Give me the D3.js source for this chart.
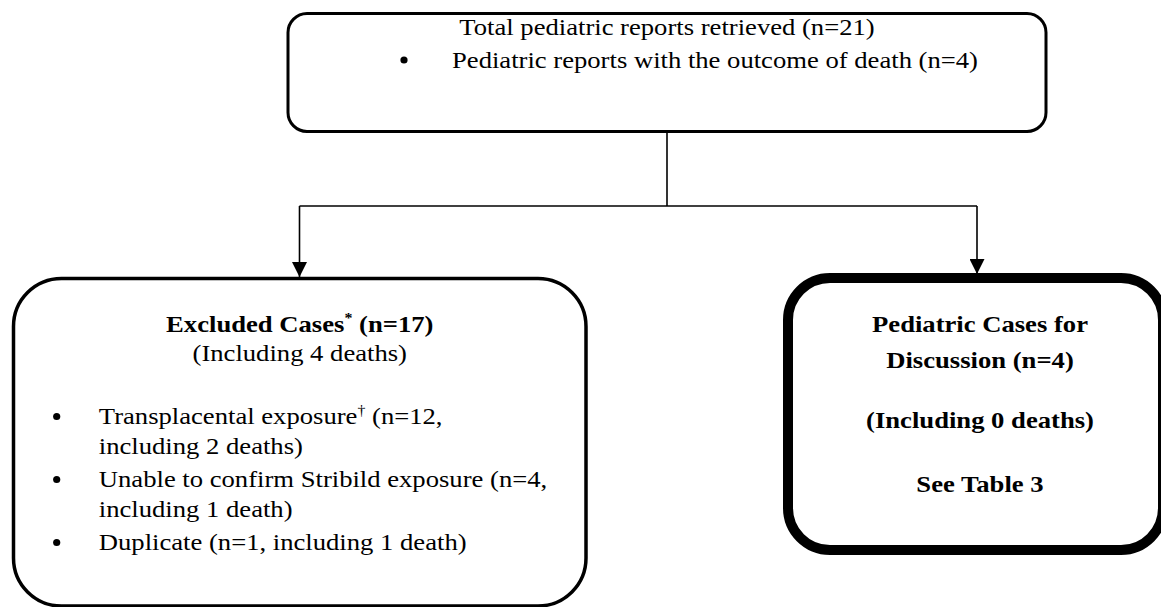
<!DOCTYPE html>
<html>
<head>
<meta charset="utf-8">
<script src="https://cdn.jsdelivr.net/npm/d3@7"></script>
<style>
  body { margin: 0; background: #fff; }
  text { font-family: "Liberation Serif", "Times New Roman", serif; fill: #000; }
</style>
</head>
<body>
<svg id="flow"></svg>
<script>
// flow chart values
let stageNames = ["Total pediatric reports retrieved", "Excluded Cases", "Pediatric Cases for Discussion"];
let stageCounts = [21, 17, 4];
let stageDeaths = [4, 4, 0];
let reasonNames = ["Transplacental exposure", "Unable to confirm Stribild exposure", "Duplicate"];
let reasonCounts = [12, 4, 1];
let reasonDeaths = [2, 1, 1];
let reasonMarks = ["\u2020", "", ""];
let reasonBreak = [true, true, false];

let svgWidth = 1161, svgHeight = 607;
let fs = 24, sx = 1.11;   // text looks a bit stretched sideways in the original

let svg = d3.select("#flow")
    .attr("width", svgWidth)
    .attr("height", svgHeight);

svg.append("defs").append("marker")
    .attr("id", "arrow")
    .attr("viewBox", "0 0 10 10")
    .attr("refX", 10)
    .attr("refY", 5)
    .attr("markerWidth", 15)
    .attr("markerHeight", 15)
    .attr("markerUnits", "userSpaceOnUse")
    .attr("orient", "auto")
  .append("path")
    .attr("d", "M0,0 L10,5 L0,10 Z")
    .attr("fill", "#000");

// boxes
let boxes = [
  {x0: 288, y0: 13.5, x1: 1046, y1: 131.5, r: 19, w: 3},
  {x0: 13.5, y0: 278.5, x1: 586, y1: 606, r: 48, w: 3.5},
  {x0: 788, y0: 278, x1: 1163, y1: 550, r: 42, w: 10}
];

svg.selectAll(".box")
    .data(boxes)
    .enter()
    .append("rect")
    .attr("class", "box")
    .attr("x", d => d.x0)
    .attr("y", d => d.y0)
    .attr("width", d => d.x1 - d.x0)
    .attr("height", d => d.y1 - d.y0)
    .attr("rx", d => d.r)
    .attr("ry", d => d.r)
    .attr("fill", "none")
    .attr("stroke", "#000")
    .attr("stroke-width", d => d.w);

// connectors
let branchX = d3.scaleOrdinal().domain(stageNames.slice(1)).range([299.5, 977]);
let stemX = 667, splitY = 206;

svg.append("line")
    .attr("x1", stemX).attr("x2", stemX)
    .attr("y1", boxes[0].y1).attr("y2", splitY)
    .attr("stroke", "#000").attr("stroke-width", 1.6);

svg.append("line")
    .attr("x1", branchX(stageNames[1])).attr("x2", branchX(stageNames[2]))
    .attr("y1", splitY).attr("y2", splitY)
    .attr("stroke", "#000").attr("stroke-width", 1.6);

svg.selectAll(".branch")
    .data(stageNames.slice(1))
    .enter()
    .append("line")
    .attr("class", "branch")
    .attr("x1", d => branchX(d)).attr("x2", d => branchX(d))
    .attr("y1", splitY)
    .attr("y2", (d, i) => i == 0 ? 277 : 274)
    .attr("stroke", "#000").attr("stroke-width", 1.6)
    .attr("marker-end", "url(#arrow)");

function bullet(x, y) {
  svg.append("circle").attr("cx", x).attr("cy", y).attr("r", 3.6).attr("fill", "#000");
}

// text placed at x,y and stretched sideways
function label(x, y, anchor, bold) {
  return svg.append("text")
      .attr("transform", "translate(" + x + "," + y + ") scale(" + sx + ",1)")
      .attr("font-size", fs)
      .attr("font-weight", bold ? "bold" : null)
      .attr("text-anchor", anchor);
}

// top box
let tc = (boxes[0].x0 + boxes[0].x1) / 2;
label(tc, 35, "middle").text(stageNames[0] + " (n=" + stageCounts[0] + ")");
bullet(404, 60);
label(452, 67.5, "start").text("Pediatric reports with the outcome of death (n=" + stageDeaths[0] + ")");

// excluded box
let lc = (boxes[1].x0 + boxes[1].x1) / 2;
let head = label(lc, 332, "middle", true);
head.append("tspan").text(stageNames[1]);
head.append("tspan").attr("font-size", fs * 0.6).attr("dy", -9).text("*");
head.append("tspan").attr("dy", 9).text(" (n=" + stageCounts[1] + ")");

label(lc, 361, "middle").text("(Including " + stageDeaths[1] + " deaths)");

let lineY = 424;
reasonNames.forEach(function(name, i) {
  let tail = "including " + reasonDeaths[i] + " death" + (reasonDeaths[i] > 1 ? "s" : "") + ")";
  bullet(56.7, lineY - 7.5);
  let t = label(98.8, lineY, "start");
  t.append("tspan").text(name);
  if (reasonMarks[i]) {
    t.append("tspan").attr("font-size", fs * 0.6).attr("dy", -9).text(reasonMarks[i]);
    t.append("tspan").attr("dy", 9).text(" (n=" + reasonCounts[i] + ",");
  } else {
    t.append("tspan").text(" (n=" + reasonCounts[i] + ",");
  }
  if (reasonBreak[i]) {
    lineY += 30;
    label(98.8, lineY, "start").text(tail);
    lineY += 33;
  } else {
    t.append("tspan").text(" " + tail);
  }
});

// included box
let rc = 980;
let rightLines = [
  {t: "Pediatric Cases for", y: 332},
  {t: "Discussion (n=" + stageCounts[2] + ")", y: 368},
  {t: "(Including " + stageDeaths[2] + " deaths)", y: 428},
  {t: "See Table 3", y: 492}
];
rightLines.forEach(function(d) {
  label(rc, d.y, "middle", true).text(d.t);
});
</script>
</body>
</html>
